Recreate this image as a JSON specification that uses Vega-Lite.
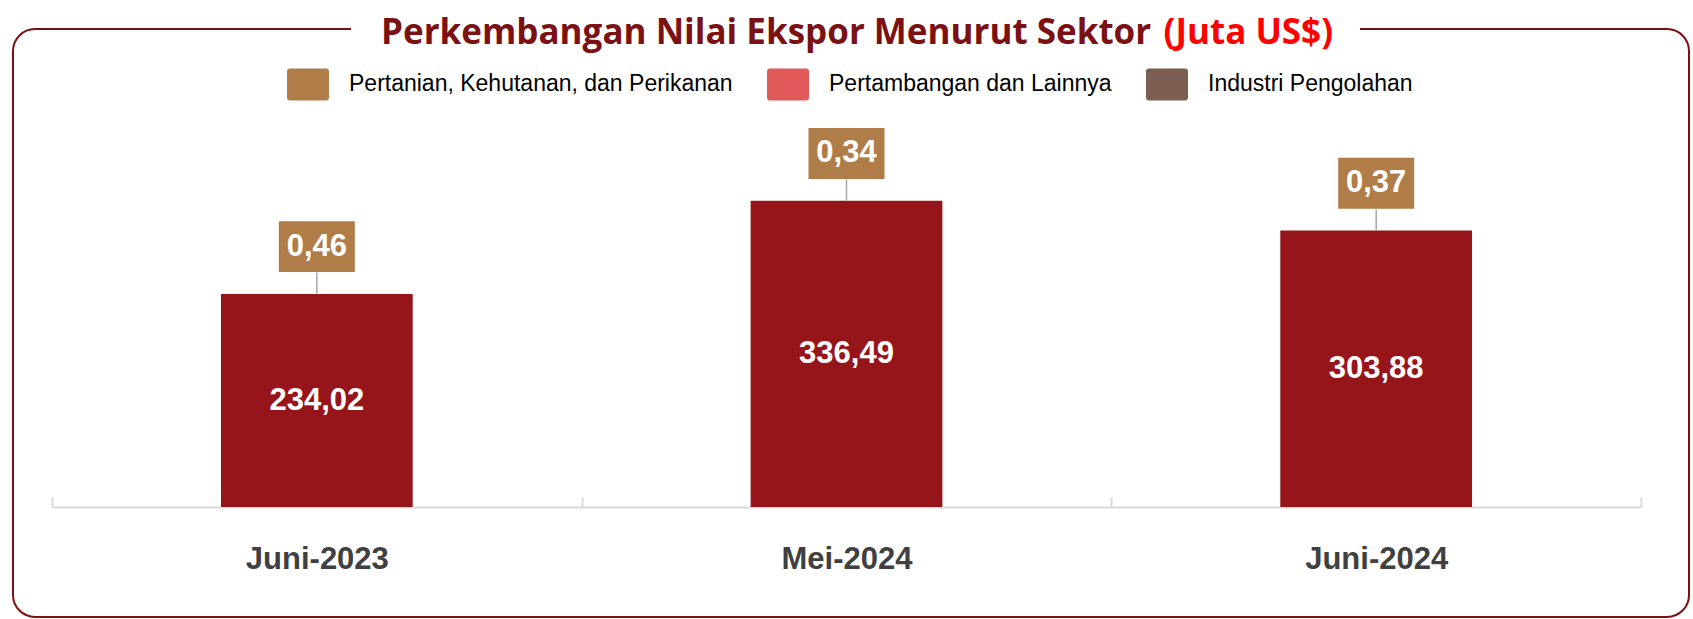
{
  "$schema": "https://vega.github.io/schema/vega-lite/v6.json",
  "width": 1676,
  "height": 588,
  "autosize": {"type": "none"},
  "padding": {"left": 13, "top": 29, "right": 4, "bottom": 2},
  "background": "#FFFFFF",
  "config": {
    "view": {"stroke": "#7B1113", "strokeWidth": 2, "cornerRadius": 22, "strokeDash": [316, 1009, 10000, 0]},
    "font": "Liberation Sans"
  },
  "title": {
    "text": "Perkembangan Nilai Ekspor Menurut Sektor\u00a0\u00a0\u00a0\u00a0\u00a0\u00a0\u00a0\u00a0\u00a0\u00a0\u00a0\u00a0\u00a0\u00a0\u00a0\u00a0\u00a0\u00a0\u00a0\u00a0\u200b",
    "subtitle": "(Juta US$)",
    "anchor": "end",
    "frame": "group",
    "orient": "top",
    "font": "Open Sans",
    "fontSize": 35,
    "fontWeight": "bold",
    "color": "#7B1113",
    "subtitleFont": "Open Sans",
    "subtitleFontSize": 35,
    "subtitleFontWeight": "bold",
    "subtitleColor": "#FF0000",
    "subtitlePadding": -35,
    "dx": -356,
    "offset": -22
  },
  "data": {
    "values": [
      {"periode": "Juni-2023", "sektor": "Industri Pengolahan", "nilai": 234.02},
      {"periode": "Juni-2023", "sektor": "Pertanian, Kehutanan, dan Perikanan", "nilai": 0.46},
      {"periode": "Mei-2024", "sektor": "Industri Pengolahan", "nilai": 336.49},
      {"periode": "Mei-2024", "sektor": "Pertanian, Kehutanan, dan Perikanan", "nilai": 0.34},
      {"periode": "Juni-2024", "sektor": "Industri Pengolahan", "nilai": 303.88},
      {"periode": "Juni-2024", "sektor": "Pertanian, Kehutanan, dan Perikanan", "nilai": 0.37}
    ]
  },
  "transform": [
    {"joinaggregate": [{"op": "sum", "field": "nilai", "as": "total"}], "groupby": ["periode"]},
    {"calculate": "replace(format(datum.nilai, '.2f'), '.', ',')", "as": "label"},
    {"calculate": "datum.nilai / 2", "as": "tengah"}
  ],
  "encoding": {
    "x": {
      "field": "periode",
      "type": "nominal",
      "sort": ["Juni-2023", "Mei-2024", "Juni-2024"],
      "scale": {"range": [39, 1628], "paddingInner": 0, "paddingOuter": 0},
      "axis": {
        "title": null,
        "orient": "bottom",
        "offset": -110,
        "domainColor": "#D9D9D9",
        "domainWidth": 2,
        "tickColor": "#D9D9D9",
        "tickWidth": 2,
        "tickSize": -10,
        "tickBand": "extent",
        "labelAngle": 0,
        "labelFont": "Liberation Sans",
        "labelFontSize": 31,
        "labelFontWeight": "bold",
        "labelColor": "#404040",
        "labelBaseline": "alphabetic",
        "labelPadding": 71
      }
    }
  },
  "layer": [
    {
      "transform": [{"filter": "datum.sektor == 'Industri Pengolahan'"}],
      "mark": {"type": "bar", "color": "#96151A", "width": {"band": 0.362}},
      "encoding": {
        "y": {"field": "nilai", "type": "quantitative", "scale": {"domain": [0, 400], "range": [478, 114], "nice": false}, "axis": null}
      }
    },
    {
      "transform": [{"filter": "datum.sektor == 'Industri Pengolahan'"}],
      "mark": {"type": "text", "color": "#FFFFFF", "font": "Liberation Sans", "fontSize": 31, "fontWeight": "bold", "baseline": "middle", "align": "center"},
      "encoding": {
        "y": {"field": "tengah", "type": "quantitative"},
        "text": {"field": "label"}
      }
    },
    {
      "transform": [{"filter": "datum.sektor != 'Industri Pengolahan'"}],
      "mark": {"type": "rule", "color": "#A6A6A6", "strokeWidth": 1.5, "y2Offset": -21},
      "encoding": {
        "y": {"field": "total", "type": "quantitative"},
        "y2": {"field": "total"}
      }
    },
    {
      "transform": [{"filter": "datum.sektor != 'Industri Pengolahan'"}],
      "mark": {"type": "point", "filled": true, "opacity": 1, "strokeWidth": 0, "size": 5776, "shape": "M-1,-0.671L1,-0.671L1,0.671L-1,0.671Z", "yOffset": -47},
      "encoding": {
        "y": {"field": "total", "type": "quantitative"},
        "color": {
          "field": "sektor",
          "type": "nominal",
          "scale": {
            "domain": ["Pertanian, Kehutanan, dan Perikanan", "Pertambangan dan Lainnya", "Industri Pengolahan"],
            "range": ["#B07D48", "#E05A5A", "#7D5E52"]
          },
          "legend": {
            "orient": "none",
            "legendX": 274,
            "legendY": 34,
            "direction": "horizontal",
            "title": null,
            "symbolType": "M-0.86,-0.762L0.86,-0.762Q1,-0.762 1,-0.622L1,0.622Q1,0.762 0.86,0.762L-0.86,0.762Q-1,0.762 -1,0.622L-1,-0.622Q-1,-0.762 -0.86,-0.762Z",
            "symbolSize": 1764,
            "symbolOpacity": 1,
            "symbolStrokeWidth": 0,
            "labelFont": "Liberation Sans",
            "labelFontSize": 23,
            "labelColor": "#000000",
            "labelOffset": 20,
            "columnPadding": 34,
            "labelLimit": 0
          }
        }
      }
    },
    {
      "transform": [{"filter": "datum.sektor != 'Industri Pengolahan'"}],
      "mark": {"type": "text", "color": "#FFFFFF", "font": "Liberation Sans", "fontSize": 31, "fontWeight": "bold", "baseline": "middle", "align": "center", "yOffset": -47},
      "encoding": {
        "y": {"field": "total", "type": "quantitative"},
        "text": {"field": "label"}
      }
    }
  ]
}
